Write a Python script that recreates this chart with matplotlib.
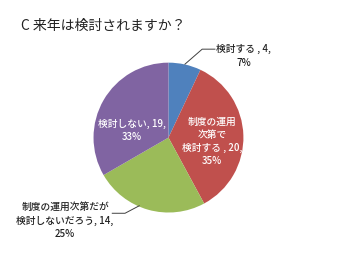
import matplotlib.pyplot as plt

plt.rcParams['font.family'] = ['Noto Sans CJK JP', 'DejaVu Sans']

title = 'C 来年は検討されますか？'
labels = ['検討する , 4,\n7%',
          '制度の運用\n次第で\n検討する , 20,\n35%',
          '制度の運用次第だが\n検討しないだろう, 14,\n25%',
          '検討しない, 19,\n33%']
values = [4, 20, 14, 19]
colors = ['#4F81BD', '#C0504D', '#9BBB59', '#8064A2']

fig = plt.figure(figsize=(3.4, 2.76), dpi=100)
fig.text(21 / 340, 1 - 26 / 276, title, fontsize=10, color='#222222', va='center')

ax = fig.add_axes([0.275, 0.230, 0.441, 0.543])
ax.pie(values, colors=colors, startangle=90, counterclock=False,
       wedgeprops=dict(linewidth=0))
ax.set_xlim(-1, 1)
ax.set_ylim(-1, 1)
ax.set_aspect('equal')
ax.axis('off')

fs = 7
# outside labels with leader lines
ax.plot([0.22, 0.45, 0.62], [0.98, 1.18, 1.18], color='#404040', lw=0.7, clip_on=False)
ax.text(1.0, 1.09, labels[0], fontsize=fs, ha='center', va='center',
        color='#222222', linespacing=1.45, fontweight='medium')
ax.plot([-0.39, -0.58, -0.75], [-0.91, -1.01, -1.01], color='#404040', lw=0.7, clip_on=False)
ax.text(-1.38, -1.11, labels[2], fontsize=fs, ha='center', va='center',
        color='#222222', linespacing=1.45, fontweight='medium')
# inside labels
ax.text(0.58, -0.05, labels[1], fontsize=fs, ha='center', va='center',
        color='white', linespacing=1.35, fontweight='medium')
ax.text(-0.49, 0.10, labels[3], fontsize=fs, ha='center', va='center',
        color='white', linespacing=1.35, fontweight='medium')

fig.savefig('out.png', dpi=100)
